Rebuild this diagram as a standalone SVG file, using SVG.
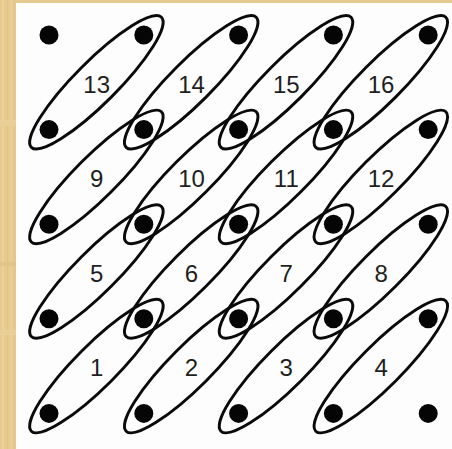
<svg xmlns="http://www.w3.org/2000/svg" width="452" height="449" viewBox="0 0 452 449">
<defs>
<style>
.bg{fill:#e7ca8f}
.paper{fill:#fdfdfd}
.cell{fill:none;stroke:#0a0a0a;stroke-width:2.9}
.dot{fill:#050505}
.lbl{font-family:"Liberation Sans",Arial,sans-serif;font-size:24px;fill:#1f1f1f;text-anchor:middle}
</style>
</defs>
<rect class="bg" x="0" y="0" width="452" height="449"/>
<g opacity="0.35">
<rect x="2" y="0" width="2" height="449" fill="#f3dcaa"/>
<rect x="7" y="0" width="1" height="449" fill="#d9b878"/>
<rect x="10" y="0" width="2" height="449" fill="#f1d8a2"/>
<rect x="14" y="0" width="1" height="449" fill="#dcbc7e"/>
<rect x="0" y="120" width="16" height="6" fill="#f2dcaa"/>
<rect x="0" y="262" width="16" height="4" fill="#dcbb7c"/>
<rect x="0" y="330" width="16" height="5" fill="#f0d9a6"/>
</g>
<rect class="paper" x="16" y="3" width="436" height="446"/>

<g id="cell-13"><ellipse class="cell" cx="96.4" cy="82.3" rx="92" ry="21" transform="rotate(-45 96.4 82.3)"/><text class="lbl" x="96.7" y="92.6">13</text></g>
<g id="cell-14"><ellipse class="cell" cx="191.2" cy="82.3" rx="92" ry="21" transform="rotate(-45 191.2 82.3)"/><text class="lbl" x="191.5" y="92.6">14</text></g>
<g id="cell-15"><ellipse class="cell" cx="286" cy="82.3" rx="92" ry="21" transform="rotate(-45 286 82.3)"/><text class="lbl" x="286.3" y="92.6">15</text></g>
<g id="cell-16"><ellipse class="cell" cx="380.8" cy="82.3" rx="92" ry="21" transform="rotate(-45 380.8 82.3)"/><text class="lbl" x="381.1" y="92.6">16</text></g>

<g id="cell-9"><ellipse class="cell" cx="96.4" cy="176.9" rx="92" ry="21" transform="rotate(-45 96.4 176.9)"/><text class="lbl" x="96.7" y="187.2">9</text></g>
<g id="cell-10"><ellipse class="cell" cx="191.2" cy="176.9" rx="92" ry="21" transform="rotate(-45 191.2 176.9)"/><text class="lbl" x="191.5" y="187.2">10</text></g>
<g id="cell-11"><ellipse class="cell" cx="286" cy="176.9" rx="92" ry="21" transform="rotate(-45 286 176.9)"/><text class="lbl" x="286.3" y="187.2">11</text></g>
<g id="cell-12"><ellipse class="cell" cx="380.8" cy="176.9" rx="92" ry="21" transform="rotate(-45 380.8 176.9)"/><text class="lbl" x="381.1" y="187.2">12</text></g>

<g id="cell-5"><ellipse class="cell" cx="96.4" cy="271.5" rx="92" ry="21" transform="rotate(-45 96.4 271.5)"/><text class="lbl" x="96.7" y="281.8">5</text></g>
<g id="cell-6"><ellipse class="cell" cx="191.2" cy="271.5" rx="92" ry="21" transform="rotate(-45 191.2 271.5)"/><text class="lbl" x="191.5" y="281.8">6</text></g>
<g id="cell-7"><ellipse class="cell" cx="286" cy="271.5" rx="92" ry="21" transform="rotate(-45 286 271.5)"/><text class="lbl" x="286.3" y="281.8">7</text></g>
<g id="cell-8"><ellipse class="cell" cx="380.8" cy="271.5" rx="92" ry="21" transform="rotate(-45 380.8 271.5)"/><text class="lbl" x="381.1" y="281.8">8</text></g>

<g id="cell-1"><ellipse class="cell" cx="96.4" cy="366.1" rx="92" ry="21" transform="rotate(-45 96.4 366.1)"/><text class="lbl" x="96.7" y="376.4">1</text></g>
<g id="cell-2"><ellipse class="cell" cx="191.2" cy="366.1" rx="92" ry="21" transform="rotate(-45 191.2 366.1)"/><text class="lbl" x="191.5" y="376.4">2</text></g>
<g id="cell-3"><ellipse class="cell" cx="286" cy="366.1" rx="92" ry="21" transform="rotate(-45 286 366.1)"/><text class="lbl" x="286.3" y="376.4">3</text></g>
<g id="cell-4"><ellipse class="cell" cx="380.8" cy="366.1" rx="92" ry="21" transform="rotate(-45 380.8 366.1)"/><text class="lbl" x="381.1" y="376.4">4</text></g>

<g id="dots">
<g id="dot-0-0"><circle class="dot" cx="49" cy="35" r="9.5"/></g>
<g id="dot-1-0"><circle class="dot" cx="143.8" cy="35" r="9.5"/></g>
<g id="dot-2-0"><circle class="dot" cx="238.6" cy="35" r="9.5"/></g>
<g id="dot-3-0"><circle class="dot" cx="333.4" cy="35" r="9.5"/></g>
<g id="dot-4-0"><circle class="dot" cx="428.2" cy="35" r="9.5"/></g>
<g id="dot-0-1"><circle class="dot" cx="49" cy="129.6" r="9.5"/></g>
<g id="dot-1-1"><circle class="dot" cx="143.8" cy="129.6" r="9.5"/></g>
<g id="dot-2-1"><circle class="dot" cx="238.6" cy="129.6" r="9.5"/></g>
<g id="dot-3-1"><circle class="dot" cx="333.4" cy="129.6" r="9.5"/></g>
<g id="dot-4-1"><circle class="dot" cx="428.2" cy="129.6" r="9.5"/></g>
<g id="dot-0-2"><circle class="dot" cx="49" cy="224.2" r="9.5"/></g>
<g id="dot-1-2"><circle class="dot" cx="143.8" cy="224.2" r="9.5"/></g>
<g id="dot-2-2"><circle class="dot" cx="238.6" cy="224.2" r="9.5"/></g>
<g id="dot-3-2"><circle class="dot" cx="333.4" cy="224.2" r="9.5"/></g>
<g id="dot-4-2"><circle class="dot" cx="428.2" cy="224.2" r="9.5"/></g>
<g id="dot-0-3"><circle class="dot" cx="49" cy="318.8" r="9.5"/></g>
<g id="dot-1-3"><circle class="dot" cx="143.8" cy="318.8" r="9.5"/></g>
<g id="dot-2-3"><circle class="dot" cx="238.6" cy="318.8" r="9.5"/></g>
<g id="dot-3-3"><circle class="dot" cx="333.4" cy="318.8" r="9.5"/></g>
<g id="dot-4-3"><circle class="dot" cx="428.2" cy="318.8" r="9.5"/></g>
<g id="dot-0-4"><circle class="dot" cx="49" cy="413.4" r="9.5"/></g>
<g id="dot-1-4"><circle class="dot" cx="143.8" cy="413.4" r="9.5"/></g>
<g id="dot-2-4"><circle class="dot" cx="238.6" cy="413.4" r="9.5"/></g>
<g id="dot-3-4"><circle class="dot" cx="333.4" cy="413.4" r="9.5"/></g>
<g id="dot-4-4"><circle class="dot" cx="428.2" cy="413.4" r="9.5"/></g>
</g>
</svg>
